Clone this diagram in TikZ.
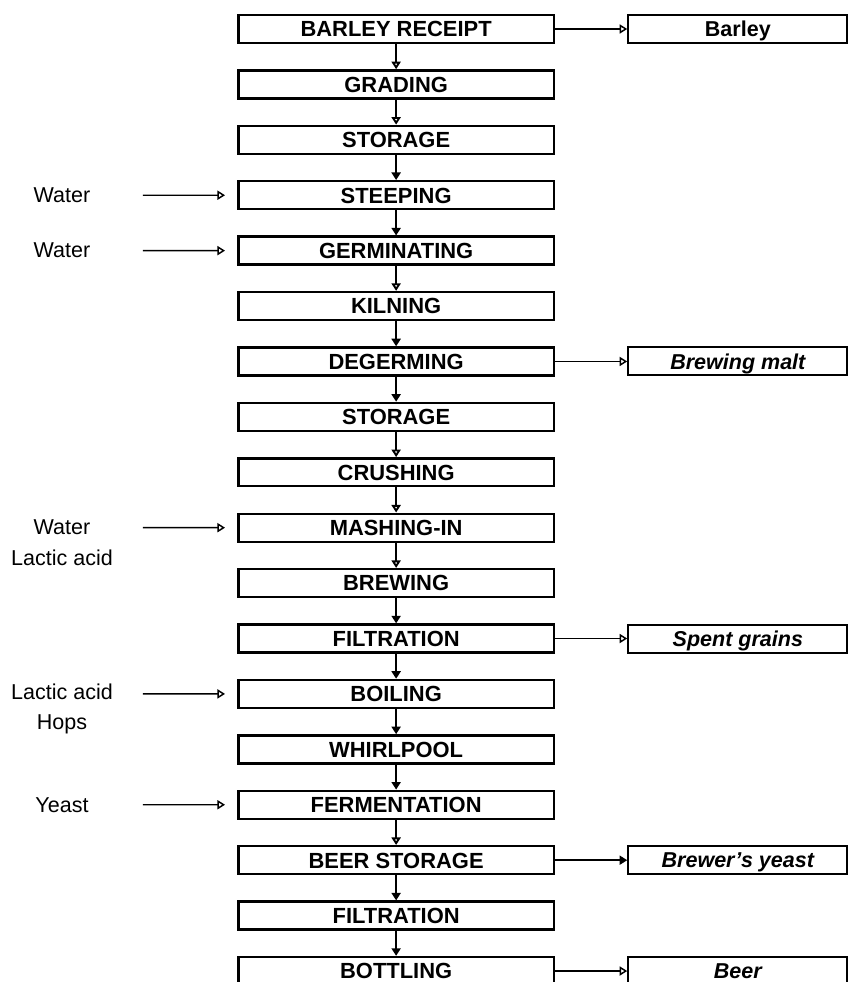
\documentclass[tikz,border=0pt]{standalone}
\usepackage{fontspec}
\setmainfont{Liberation Sans}
\usetikzlibrary{arrows.meta,positioning}

\begin{document}
\begin{tikzpicture}[-{Triangle[length=0.2cm,width=0.24cm]},node distance=1.466cm,
                    line width=1.5pt,
                    main node/.style={rectangle,draw,line width=1.8pt,minimum width=8.35cm,minimum height=0.74cm,inner sep=0pt,text height=13pt,text depth=1.2pt,font=\fontsize{16.5}{19}\selectfont\bfseries},
                    out node/.style={rectangle,draw,line width=1.5pt,minimum width=5.8cm,minimum height=0.74cm,inner sep=0pt,text height=12.6pt,text depth=1pt,font=\fontsize{16.2}{19}\selectfont\bfseries\itshape},
                    in node/.style={align=center,font=\fontsize{16.2}{23}\selectfont},
                    hollow/.style={-{Triangle[open,length=0.2cm,width=0.24cm]}},
                    side/.style={line width=1.1pt}]

  \useasboundingbox (0,0) rectangle (22.49,-25.98);

  % process column
  \node[main node] (recv) at (10.48,-0.767) {BARLEY RECEIPT};
  \node[main node] (grade) [below of=recv] {GRADING};
  \node[main node] (store1) [below of=grade] {STORAGE};
  \node[main node] (steep) [below of=store1] {STEEPING};
  \node[main node] (germ) [below of=steep] {GERMINATING};
  \node[main node] (kiln) [below of=germ] {KILNING};
  \node[main node] (degerm) [below of=kiln] {DEGERMING};
  \node[main node] (store2) [below of=degerm] {STORAGE};
  \node[main node] (crush) [below of=store2] {CRUSHING};
  \node[main node] (mash) [below of=crush] {MASHING-IN};
  \node[main node] (brew) [below of=mash] {BREWING};
  \node[main node] (filt1) [below of=brew] {FILTRATION};
  \node[main node] (boil) [below of=filt1] {BOILING};
  \node[main node] (whirl) [below of=boil] {WHIRLPOOL};
  \node[main node] (ferm) [below of=whirl] {FERMENTATION};
  \node[main node] (beerst) [below of=ferm] {BEER STORAGE};
  \node[main node] (filt2) [below of=beerst] {FILTRATION};
  \node[main node] (bottle) [below of=filt2] {BOTTLING};

  % products
  \node[out node] (barley) [right of=recv, node distance=9.04cm] {\upshape Barley};
  \node[out node] (malt) [right of=degerm, node distance=9.04cm] {Brewing malt};
  \node[out node] (grains) [right of=filt1, node distance=9.04cm] {Spent grains};
  \node[out node] (yeast) [right of=beerst, node distance=9.04cm] {Brewer’s yeast};
  \node[out node] (beer) [right of=bottle, node distance=9.04cm] {Beer};

  % inputs
  \node[in node] (water1) at (1.64,-5.165) {Water};
  \node[in node] (water2) at (1.64,-6.631) {Water};
  \node[in node] (water3) at (1.64,-14.36) {Water\\Lactic acid};
  \node[in node] (hops) at (1.64,-18.75) {Lactic acid\\Hops};
  \node[in node] (yeastin) at (1.64,-21.29) {Yeast};
  \coordinate (a1) at (3.78,-5.165);
  \coordinate (a2) at (3.78,-6.631);
  \coordinate (a3) at (3.78,-13.960);
  \coordinate (a4) at (3.78,-18.358);
  \coordinate (a5) at (3.78,-21.29);

  \path
    (recv) edge [hollow] (grade)
    (grade) edge [hollow] (store1)
    (store1) edge (steep)
    (steep) edge (germ)
    (germ) edge [hollow] (kiln)
    (kiln) edge (degerm)
    (degerm) edge (store2)
    (store2) edge [hollow] (crush)
    (crush) edge [hollow] (mash)
    (mash) edge [hollow] (brew)
    (brew) edge (filt1)
    (filt1) edge (boil)
    (boil) edge (whirl)
    (whirl) edge (ferm)
    (ferm) edge [hollow] (beerst)
    (beerst) edge (filt2)
    (filt2) edge (bottle);

  \path[side]
    (recv) edge [hollow] (barley)
    (degerm) edge [hollow] (malt)
    (filt1) edge [hollow] (grains)
    (beerst) edge (yeast)
    (bottle) edge [hollow] (beer);

  \path[side, shorten >=0.32cm]
    (a1) edge [hollow] (steep)
    (a2) edge [hollow] (germ)
    (a3) edge [hollow] (mash)
    (a4) edge [hollow] (boil)
    (a5) edge [hollow] (ferm);
\end{tikzpicture}
\end{document}
